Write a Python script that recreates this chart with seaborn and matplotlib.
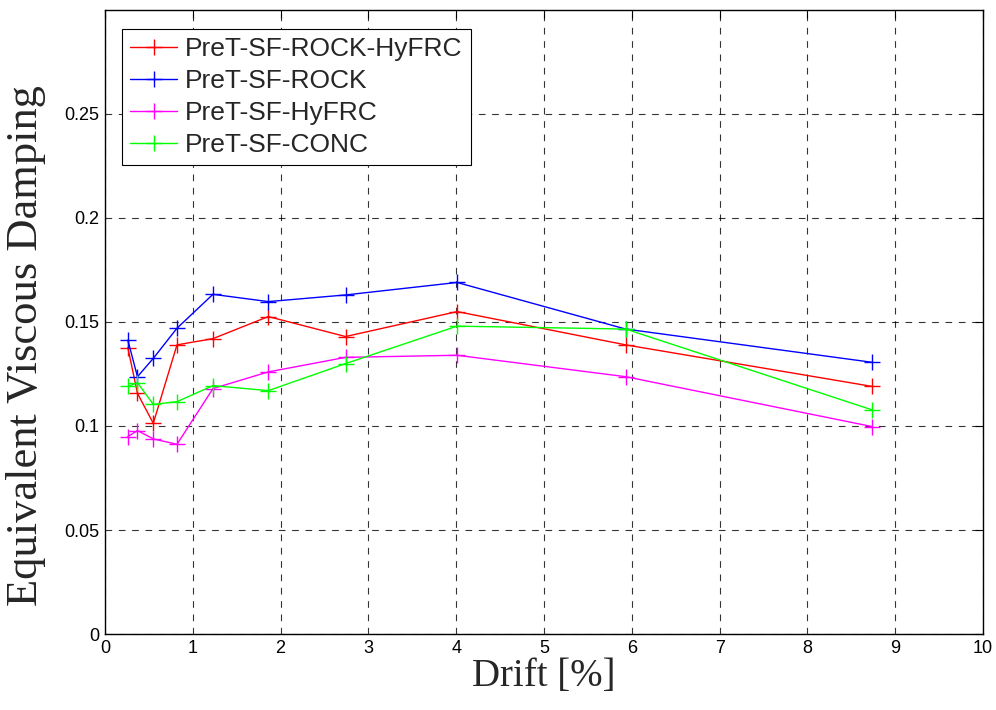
import numpy as np
import pandas as pd
import matplotlib
matplotlib.use("Agg")
import matplotlib.pyplot as plt
import seaborn as sns

# ===== Data =====
drift = [0.26, 0.37, 0.55, 0.82, 1.23, 1.86, 2.74, 4.01, 5.93, 8.74]

rock_hyfrc = [0.1377, 0.1157, 0.1013, 0.139, 0.142, 0.1526, 0.143, 0.155, 0.139, 0.119]
rock = [0.1413, 0.1237, 0.1325, 0.147, 0.1633, 0.1598, 0.163, 0.169, 0.1466, 0.1306]
hyfrc = [0.0949, 0.0978, 0.0938, 0.0912, 0.118, 0.126, 0.133, 0.134, 0.1237, 0.0997]
conc = [0.119, 0.1208, 0.1104, 0.1117, 0.1194, 0.117, 0.130, 0.148, 0.1466, 0.1077]

names = ["PreT-SF-ROCK-HyFRC", "PreT-SF-ROCK", "PreT-SF-HyFRC", "PreT-SF-CONC"]
colors = ["#ff0000", "#0000ff", "#ff00ff", "#00ff00"]

x_ticks = list(range(0, 11))
y_ticks = [0, 0.05, 0.1, 0.15, 0.2, 0.25]
y_tick_labels = ["0", "0.05", "0.1", "0.15", "0.2", "0.25"]

# long-form table for seaborn
df = pd.concat([
    pd.DataFrame({"drift": drift, "damping": vals, "specimen": name})
    for name, vals in zip(names, [rock_hyfrc, rock, hyfrc, conc])
], ignore_index=True)

sns.set_style("white")
plt.rcParams["font.family"] = ["Liberation Sans", "DejaVu Sans"]

fig = plt.figure(figsize=(9.96, 7.1), dpi=100)
ax = fig.add_axes([0.1054, 0.107, 0.8816, 0.879])

sns.lineplot(data=df, x="drift", y="damping", hue="specimen", hue_order=names,
             palette=colors, marker="+", markersize=11, markeredgewidth=1.0,
             linewidth=1.0, sort=False, estimator=None, ax=ax, legend=False)

# seaborn paints marker edges white; give them the line colour
for line in ax.get_lines():
    line.set_markeredgecolor(line.get_color())

ax.set_xlim(0, 10)
ax.set_ylim(0, 0.3)
ax.set_xticks(x_ticks)
ax.set_yticks(y_ticks)
ax.set_yticklabels(y_tick_labels)

ax.grid(True, color="black", linestyle=(0, (6, 6)), linewidth=0.8, alpha=0.8)
ax.set_axisbelow(True)
ax.tick_params(direction="in", length=6, width=0.8, top=True, right=True,
               labelsize=13, colors="black", pad=4)
for sp in ax.spines.values():
    sp.set_visible(True)
    sp.set_color("black")
    sp.set_linewidth(1.0)

ax.set_xlabel("Drift [%]", family=["Liberation Serif", "DejaVu Serif"], fontsize=28, labelpad=1)
ax.set_ylabel("Equivalent Viscous Damping", family=["Liberation Serif", "DejaVu Serif"],
              fontsize=32)
ax.yaxis.set_label_coords(-0.067, 0.463)

handles = ax.get_lines()[:len(names)]
leg = ax.legend(handles, names, loc="upper left", bbox_to_anchor=(0.0194, 0.9696), fontsize=19,
                frameon=True, fancybox=False, edgecolor="black", framealpha=1,
                borderpad=0.3, labelspacing=0.31, handlelength=1.8, handletextpad=0.3,
                borderaxespad=0)
leg.get_frame().set_linewidth(0.8)

fig.savefig("out.png", dpi=100)
